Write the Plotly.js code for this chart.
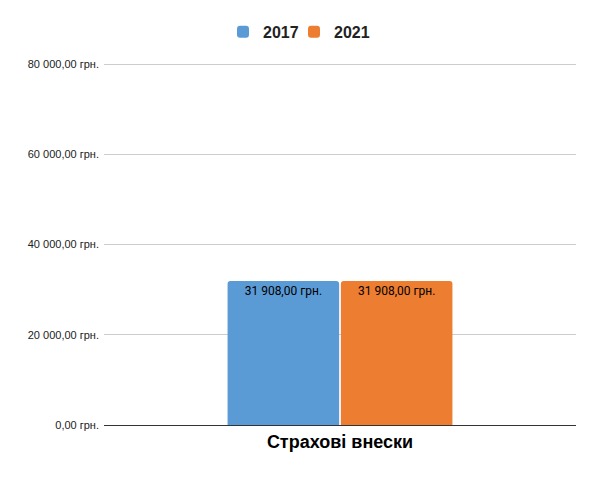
<!DOCTYPE html>
<html>
<head>
<meta charset="utf-8">
<script src="https://cdn.plot.ly/plotly-3.0.1.min.js"></script>
<style>
  body { margin: 0; }
  #chart { width: 600px; height: 477px; }
</style>
</head>
<body>
<div id="chart"></div>
<script>
var categories = ['Страхові внески'];
var values2017 = [31908];
var values2021 = [31908];
var tickValues = [0, 20000, 40000, 60000, 80000];
var tickLabels = ['0,00 грн.', '20 000,00 грн.', '40 000,00 грн.', '60 000,00 грн.', '80 000,00 грн.'];

var labelFont = { family: 'Roboto, sans-serif', size: 12, color: '#000' };
var legendFont = { family: 'Liberation Sans, Arial, sans-serif', size: 16, weight: 'bold', color: '#222' };

var data = [
  {
    x: categories,
    y: values2017,
    name: '2017',
    type: 'bar',
    legend: 'legend',
    showlegend: true,
    marker: { color: '#5b9bd5', cornerradius: 3 },
    texttemplate: '%{y:,.2f} грн.',
    textposition: 'inside',
    insidetextanchor: 'end',
    textfont: labelFont,
    hoverinfo: 'none'
  },
  {
    x: categories,
    y: values2021,
    name: '2021',
    type: 'bar',
    legend: 'legend2',
    showlegend: true,
    marker: { color: '#ed7d31', cornerradius: 3 },
    texttemplate: '%{y:,.2f} грн.',
    textposition: 'inside',
    insidetextanchor: 'end',
    textfont: labelFont,
    hoverinfo: 'none'
  }
];

var layout = {
  width: 600,
  height: 477,
  margin: { l: 104, r: 24, t: 61, b: 52 },
  showlegend: true,
  separators: ', ',
  paper_bgcolor: '#fff',
  plot_bgcolor: '#fff',
  barmode: 'group',
  bargap: 0.52,
  bargroupgap: 0.015,
  font: { family: 'Liberation Sans, Arial, sans-serif', color: '#333' },
  legend: {
    orientation: 'h',
    xref: 'container',
    x: 223 / 600,
    xanchor: 'left',
    yref: 'container',
    y: 0.933,
    yanchor: 'middle',
    bgcolor: 'rgba(0,0,0,0)',
    font: legendFont
  },
  legend2: {
    orientation: 'h',
    xref: 'container',
    x: 294 / 600,
    xanchor: 'left',
    yref: 'container',
    y: 0.933,
    yanchor: 'middle',
    bgcolor: 'rgba(0,0,0,0)',
    font: legendFont
  },
  xaxis: {
    showgrid: false,
    showline: true,
    linecolor: '#333',
    linewidth: 1,
    ticks: '',
    tickfont: { family: 'Liberation Sans, Arial, sans-serif', size: 18, weight: 'bold', color: '#000' }
  },
  yaxis: {
    range: [0, 80665],
    tickvals: tickValues,
    ticktext: tickLabels,
    showgrid: true,
    gridcolor: '#cccccc',
    zeroline: false,
    ticks: '',
    ticklabelstandoff: 4,
    tickfont: { family: 'Liberation Sans, Arial, sans-serif', size: 11, color: '#222' }
  }
};

Plotly.newPlot('chart', data, layout, { displayModeBar: false, staticPlot: true });
</script>
</body>
</html>
